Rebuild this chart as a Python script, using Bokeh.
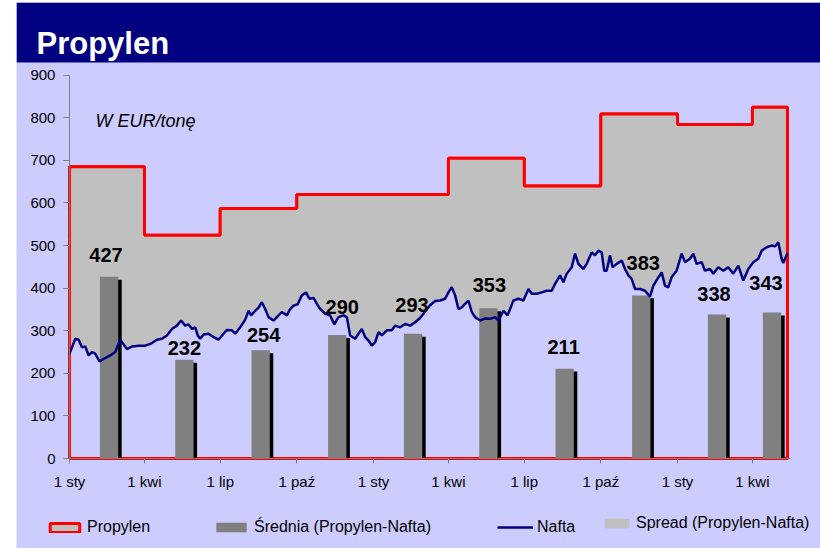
import numpy as np
import pandas as pd
from bokeh.plotting import figure
from bokeh.core.properties import value
from bokeh.models import (Range1d, FixedTicker, BoxAnnotation, Label, LabelSet,
                          ColumnDataSource, Legend, LegendItem)
from bokeh.embed import file_html
from bokeh.resources import INLINE

# ---------------- data ----------------
start_date = "2005-01-01"
end_date = "2007-05-13"

quarter_starts = ["2005-01-01", "2005-04-01", "2005-07-01", "2005-10-01",
                  "2006-01-01", "2006-04-01", "2006-07-01", "2006-10-01",
                  "2007-01-01", "2007-04-01"]
tick_labels = ["1 sty", "1 kwi", "1 lip", "1 paź", "1 sty",
               "1 kwi", "1 lip", "1 paź", "1 sty", "1 kwi"]

propylen = [685, 524, 587, 620, 620, 705, 640, 809, 784, 825]
srednia = [427, 232, 254, 290, 293, 353, 211, 383, 338, 343]

nafta_day = [0, 7, 11, 15, 19, 23, 27, 31, 36, 41, 49, 55, 61, 65, 69, 75, 83, 91,
             97, 105, 111, 117, 123, 129, 134, 139, 143, 147, 151, 154, 157, 161,
             167, 173, 179, 185, 189, 195, 199, 205, 211, 215, 218, 223, 227, 231,
             235, 239, 245, 249, 255, 261, 265, 269, 274, 279, 284, 288, 293, 297,
             301, 307, 313, 318, 323, 329, 333, 337, 343, 347, 351, 355, 359, 363,
             367, 371, 375, 381, 387, 391, 397, 403, 409, 415, 421, 427, 433, 439,
             445, 451, 455, 459, 463, 467, 471, 475, 479, 483, 487, 493, 499, 505,
             511, 515, 521, 526, 533, 539, 545, 551, 555, 561, 567, 573, 579, 583,
             589, 593, 597, 603, 607, 611, 617, 621, 627, 631, 635, 639, 642, 645,
             649, 652, 657, 663, 667, 671, 675, 679, 685, 691, 697, 701, 706, 711,
             715, 719, 723, 729, 735, 739, 745, 749, 753, 759, 763, 769, 773, 779,
             785, 791, 797, 803, 809, 815, 821, 827, 831, 837, 843, 847, 851, 855,
             857, 862]
nafta = [246, 281, 279, 261, 263, 242, 250, 246, 228, 234, 242, 250, 279, 268, 257,
         263, 265, 265, 269, 279, 281, 289, 304, 312, 324, 312, 315, 304, 308, 289,
         281, 291, 293, 285, 279, 293, 302, 301, 293, 308, 326, 347, 336, 347, 354,
         367, 351, 332, 324, 332, 344, 336, 351, 359, 362, 383, 390, 375, 377, 363,
         351, 340, 336, 315, 332, 336, 332, 289, 281, 293, 304, 285, 277, 265, 273,
         297, 289, 301, 301, 312, 308, 316, 312, 320, 330, 345, 360, 370, 371, 375,
         390, 402, 383, 351, 355, 363, 371, 344, 332, 324, 329, 328, 332, 324, 347,
         336, 371, 375, 371, 398, 387, 387, 390, 394, 394, 410, 430, 414, 434, 449,
         481, 457, 445, 457, 484, 477, 488, 484, 441, 441, 477, 449, 457, 465, 445,
         430, 422, 398, 398, 394, 380, 406, 422, 437, 406, 402, 426, 441, 481, 461,
         469, 481, 457, 461, 441, 445, 434, 449, 441, 449, 434, 453, 418, 445, 461,
         469, 488, 496, 500, 498, 508, 469, 459, 482]

# label nudges (screen px) for the bar value labels
label_dx = [-3, 0, 3, 5, -1, 1, -1, 2, -3, -6]
label_dy = [22, 12, 15, 28, 29, 23, 22, 32, 21, 29]

# ---------------- derived ----------------
DAY = 86400000


def ms(d):
    return pd.Timestamp(d).value // 10**6


q_ms = np.array([ms(d) for d in quarter_starts], dtype=float)
end_ms = float(ms(end_date))
bounds = np.append(q_ms, end_ms)
nafta_x = ms(start_date) + np.array(nafta_day, dtype=float) * DAY

# propylene outline (closed step line down to zero)
px, py = [bounds[0]], [0]
for i, v in enumerate(propylen):
    px += [bounds[i], bounds[i + 1]]
    py += [v, v]
px += [bounds[-1], bounds[0]]
py += [0, 0]

# spread area grid
grid = np.union1d(nafta_x, np.concatenate([q_ms[1:], q_ms[1:] - 1000.0]))
prop_at = np.array(propylen)[np.searchsorted(q_ms, grid, side="right") - 1]
naf_at = np.interp(grid, nafta_x, nafta)

# bars sit slightly right of each quarter's midpoint, as in the original
mids = (bounds[:-1] + bounds[1:]) / 2.0 + 2.5 * DAY
bar_w = 22 * DAY
shadow_x = mids + 4.2 * DAY
shadow_top = np.array(srednia) - 7

BG = "#CCCCFF"
FONT = "Liberation Sans"

# frame covers the whole canvas; axes are drawn at fixed positions
p = figure(width=804, height=546, x_axis_type="datetime",
           x_range=Range1d(q_ms[0] - 63.6 * DAY, q_ms[0] + 901.7 * DAY),
           y_range=Range1d(-211.3, 1070.7),
           output_backend="svg", toolbar_location=None,
           min_border=0, min_border_left=0, min_border_right=0,
           min_border_top=0, min_border_bottom=0,
           background_fill_color=BG, border_fill_color=BG,
           outline_line_color=None, margin=(2, 0, 0, 16))
p.xgrid.visible = False
p.ygrid.visible = False

# layers
r_prop_patch = p.patch(px, py, fill_color="#C0C0C0", line_color="#FF0000", line_width=3)
p.varea(x=grid, y1=0, y2=naf_at, fill_color=BG)
r_spread = p.varea(x=grid, y1=naf_at, y2=prop_at, fill_color="#C0C0C0")
p.line(px, py, line_color="#FF0000", line_width=3)
p.vbar(x=shadow_x, top=shadow_top, width=bar_w, fill_color="black", line_color=None)
r_bars = p.vbar(x=mids, top=srednia, width=bar_w, fill_color="#808080", line_color=None)
r_nafta = p.line(nafta_x, nafta, line_color="#000080", line_width=2.5)

lab_src = ColumnDataSource(dict(x=mids, y=srednia, text=[str(v) for v in srednia],
                                dx=label_dx, dy=label_dy))
p.add_layout(LabelSet(x="x", y="y", text="text", x_offset="dx", y_offset="dy",
                      source=lab_src, text_align="center", text_baseline="middle",
                      text_font=value(FONT), text_font_style="bold",
                      text_font_size="20px", text_color="black"))

# axes
for ax in (p.xaxis[0], p.yaxis[0]):
    ax.axis_line_color = "#808080"
    ax.major_tick_line_color = "#808080"
    ax.minor_tick_line_color = None
    ax.major_tick_in = 0
    ax.major_label_text_font = FONT
    ax.major_label_text_font_size = "15px"
    ax.major_label_text_color = "black"
p.yaxis.ticker = FixedTicker(ticks=list(range(0, 901, 100)))
p.yaxis.bounds = (0, 900)
p.yaxis.fixed_location = q_ms[0]
p.yaxis.major_tick_out = 6
p.yaxis.major_label_standoff = 8
p.xaxis.ticker = FixedTicker(ticks=[int(t) for t in q_ms])
p.xaxis.major_label_overrides = {int(t): lbl for t, lbl in zip(q_ms, tick_labels)}
p.xaxis.bounds = (q_ms[0], end_ms + 3.6 * DAY)
p.xaxis.fixed_location = 0
p.xaxis.major_tick_out = 5
p.xaxis.major_label_standoff = 9

# title bar
p.add_layout(BoxAnnotation(bottom=486, bottom_units="screen",
                           fill_color="#000080", fill_alpha=1.0, line_color=None,
                           level="overlay"))
p.add_layout(Label(x=20, y=504.7, x_units="screen", y_units="screen", text="Propylen",
                   text_font=FONT, text_font_style="bold", text_font_size="31px",
                   text_color="white", text_baseline="alphabetic", level="overlay"))
p.add_layout(Label(x=79, y=428, x_units="screen", y_units="screen", text="W EUR/tonę",
                   text_font=FONT, text_font_style="italic", text_font_size="18px",
                   text_color="black", text_baseline="alphabetic"))


def add_leg(label, rend, loc, gw, gh):
    leg = Legend(items=[LegendItem(label=label, renderers=[rend])], location=loc,
                 orientation="horizontal", glyph_width=gw, glyph_height=gh,
                 label_standoff=4, label_height=10, padding=0, margin=0, spacing=0,
                 border_line_color=None, background_fill_alpha=0,
                 label_text_font=FONT, label_text_font_size="16px",
                 label_text_color="black")
    p.add_layout(leg)


add_leg("Propylen", r_prop_patch, (30, 12), 37, 11)
add_leg("Średnia (Propylen-Nafta)", r_bars, (196, 12), 38, 12)
add_leg("Nafta", r_nafta, (481, 12.5), 36, 18)
add_leg("Spread (Propylen-Nafta)", r_spread, (585, 16.5), 31, 12)

open("out.html", "w").write(file_html(p, INLINE))
